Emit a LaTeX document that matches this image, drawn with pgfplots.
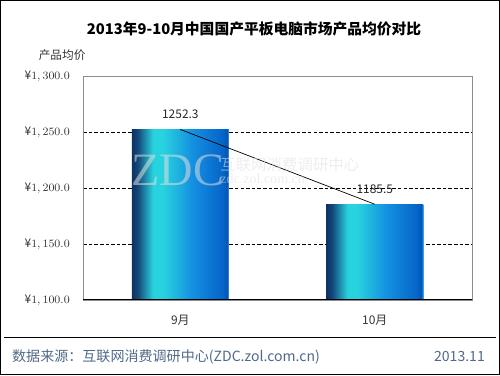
\documentclass[border=0pt]{standalone}
\usepackage{pgfplots}
\pgfplotsset{compat=1.18}
\usepackage{fontspec}
\setmainfont{Noto Sans CJK SC}
\newfontfamily\wmserif{Liberation Serif}
\definecolor{footblue}{RGB}{80,105,135}
\definecolor{bnavy}{RGB}{10,50,100}
\definecolor{bnavyb}{RGB}{20,70,120}
\definecolor{bcyan}{RGB}{40,210,222}
\definecolor{bmid}{RGB}{20,145,225}
\definecolor{bblue}{RGB}{5,100,200}
\definecolor{bdark}{RGB}{0,85,180}
\definecolor{bedge}{RGB}{80,170,240}
\pgfdeclarehorizontalshading{barshade}{100bp}{color(0bp)=(bnavy); color(25bp)=(bnavy); color(28bp)=(bnavyb); color(36bp)=(bcyan); color(41bp)=(bcyan); color(56bp)=(bmid); color(72bp)=(bblue); color(74bp)=(bdark); color(75bp)=(bedge); color(100bp)=(bedge)}
\pgfplotsset{barsty/.style={ybar, bar width=0.5, draw=none, shading=barshade,
  point meta=explicit symbolic,
  nodes near coords,
  nodes near coords style={font=\fontsize{8.5}{10}\selectfont, color=black!85, yshift=4pt}}}
\begin{document}
\begin{tikzpicture}
\begin{scope}[x=0.025cm,y=0.025cm]
\useasboundingbox (0,0) rectangle (500,375);
\end{scope}
\begin{axis}[
  at={(2.075cm,1.875cm)}, anchor=south west,
  scale only axis, width=9.725cm, height=5.6cm,
  xmin=-0.5, xmax=1.5, ymin=1100, ymax=1300,
  xtick={0,1}, xticklabels={9月,10月},
  ytick={1150,1200,1250},
  extra y ticks={1100,1300},
  extra y tick style={grid=none},
  ymajorgrids,
  grid style={black, dash pattern=on 2.5pt off 1.5pt, line width=0.5pt},
  xtick style={draw=none}, ytick style={draw=none},
  axis line style={gray!90, line width=0.6pt},
  tick label style={font=\fontsize{8.5}{10}\selectfont, color=black!80},
  yticklabel={¥\pgfmathprintnumber[fixed,fixed zerofill,precision=1,1000 sep={,}]{\tick}},
  yticklabel style={xshift=-6pt},
  xticklabel style={yshift=-7pt},
  clip=true,
]
\addplot[barsty] coordinates {(0,1252.3) [1252.3]};
\addplot[barsty] coordinates {(1,1185.5) [1185.5]};
\addplot[black, line width=0.5pt, mark=none] coordinates {(0,1252.3) (1,1185.5)};
\draw[black, line width=0.7pt] (rel axis cs:0,0) -- (rel axis cs:1,0);
\draw[black, line width=0.5pt] (axis cs:0.5,1100) -- ++(0,3.5pt);
\end{axis}
\begin{scope}[x=0.025cm,y=0.025cm]
% watermark
\node[anchor=base west, inner sep=0, text=white!75!gray, opacity=0.55, font=\wmserif\fontsize{33}{33}\selectfont] at (131,190) {ZDC};
\node[anchor=west, inner sep=0, text=white!75!gray, opacity=0.55, font=\fontsize{11}{12}\selectfont] at (220,210) {互联网消费调研中心};
\node[anchor=west, inner sep=0, text=white!75!gray, opacity=0.55, font=\wmserif\fontsize{10}{12}\selectfont] at (220,196) {zdc.zol.com.cn};
% title etc
\node[font=\fontsize{10.5}{12}\selectfont\bfseries] at (254,346) {2013年9-10月中国国产平板电脑市场产品均价对比};
\node[font=\fontsize{8.3}{10}\selectfont, color=black!80] at (62,320) {产品均价};
\draw[black, line width=0.8pt] (4,37) -- (496,37);
\node[anchor=west, font=\fontsize{10}{12}\selectfont, color=footblue] at (7,18) {数据来源：互联网消费调研中心(ZDC.zol.com.cn)};
\node[anchor=east, font=\fontsize{10}{12}\selectfont, color=footblue] at (490,18) {2013.11};
\draw[black, line width=1pt] (0.5,0.5) rectangle (499.5,374.5);
\end{scope}
\end{tikzpicture}
\end{document}
